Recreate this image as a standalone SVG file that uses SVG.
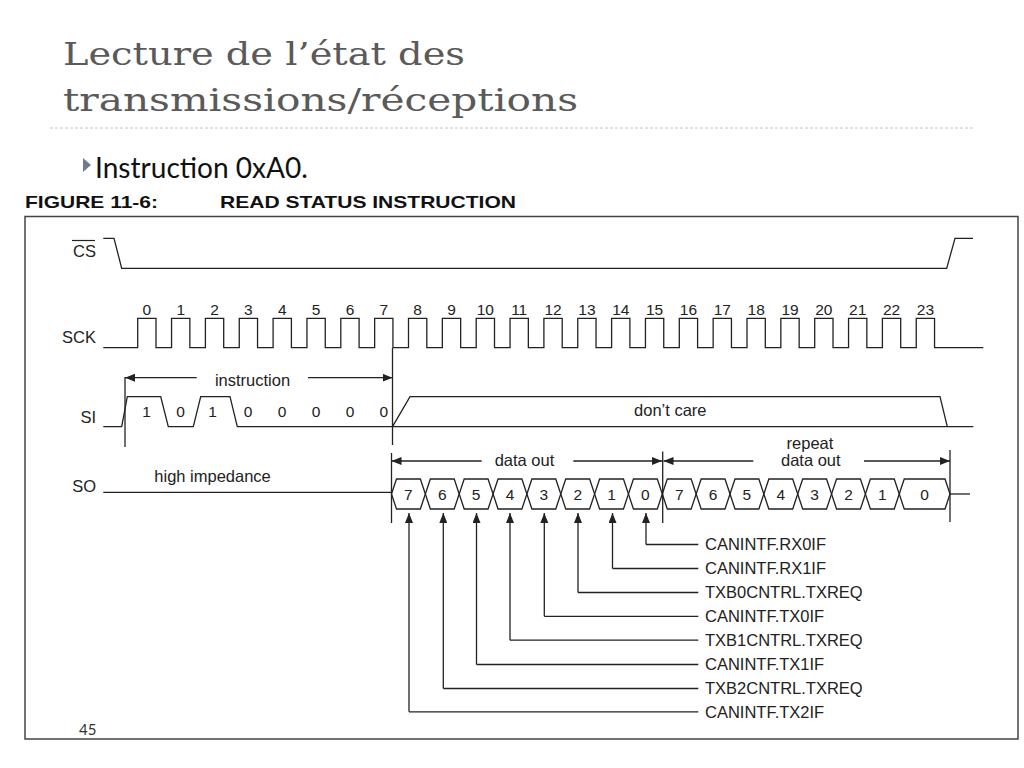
<svg xmlns="http://www.w3.org/2000/svg" width="1024" height="768" viewBox="0 0 1024 768">
<style>
.sig{fill:none;stroke:#222;stroke-width:1.3}
.lbl{font-family:"Liberation Sans",Arial,sans-serif;font-size:16.5px;fill:#222}
.num{font-family:"Liberation Sans",Arial,sans-serif;font-size:15.5px;fill:#222;text-anchor:middle}
.mid{text-anchor:middle}
.end{text-anchor:end}
.arr{fill:none;stroke:#222;stroke-width:1.3}
</style>
<defs>
<marker id="ah" viewBox="0 0 10 8" refX="10" refY="4" markerWidth="10" markerHeight="8" orient="auto-start-reverse" markerUnits="userSpaceOnUse"><path d="M0,0 L10,4 L0,8 Z" fill="#222"/></marker>
</defs>
<rect width="1024" height="768" fill="#fff"/>
<g id="title">
<text x="63" y="65" font-family="'DejaVu Serif','Liberation Serif',serif" font-size="31.5" fill="#5a5a5a" textLength="402" lengthAdjust="spacingAndGlyphs">Lecture de l’état des</text>
<text x="63" y="111" font-family="'DejaVu Serif','Liberation Serif',serif" font-size="31.5" fill="#5a5a5a" textLength="515" lengthAdjust="spacingAndGlyphs">transmissions/réceptions</text>
<line x1="50" y1="128" x2="973" y2="128" stroke="#c4c4c4" stroke-width="1" stroke-dasharray="3 2"/>
</g>
<g id="bullet">
<polygon points="83,158 91,165 83,172" fill="#6f7c96"/>
<text x="95" y="178" font-family="Lato,'Open Sans',sans-serif" font-size="28" fill="#111" textLength="213" lengthAdjust="spacingAndGlyphs">Instruction 0xA0.</text>
</g>
<g id="heading" font-family="'Liberation Sans',Arial,sans-serif" font-weight="bold" font-size="17" fill="#111">
<text x="25" y="208" textLength="133" lengthAdjust="spacingAndGlyphs">FIGURE 11-6:</text>
<text x="220" y="208" textLength="296" lengthAdjust="spacingAndGlyphs">READ STATUS INSTRUCTION</text>
</g>
<rect id="frame" x="25" y="216.5" width="993" height="522.5" fill="none" stroke="#444" stroke-width="1.5"/>
<g id="cs">
<text class="lbl end" x="96" y="257">CS</text>
<line x1="72" y1="240.5" x2="95" y2="240.5" stroke="#222" stroke-width="1.2"/>
<path class="sig" d="M103.3,238.3 H114 L121.7,268.3 H946.7 L955,238.3 H973"/>
</g>
<g id="sck">
<text class="lbl end" x="96" y="343">SCK</text>
<path class="sig" d="M103.3,347.7 H137.7 V318.3 H156 V347.7 H171.55 V318.3 H189.85 V347.7 H205.4 V318.3 H223.7 V347.7 H239.25 V318.3 H257.55 V347.7 H273.1 V318.3 H291.4 V347.7 H306.95 V318.3 H325.25 V347.7 H340.8 V318.3 H359.1 V347.7 H374.65 V318.3 H392.95 V347.7 H408.5 V318.3 H426.8 V347.7 H442.35 V318.3 H460.65 V347.7 H476.2 V318.3 H494.5 V347.7 H510.05 V318.3 H528.35 V347.7 H543.9 V318.3 H562.2 V347.7 H577.75 V318.3 H596.05 V347.7 H611.6 V318.3 H629.9 V347.7 H645.45 V318.3 H663.75 V347.7 H679.3 V318.3 H697.6 V347.7 H713.15 V318.3 H731.45 V347.7 H747 V318.3 H765.3 V347.7 H780.85 V318.3 H799.15 V347.7 H814.7 V318.3 H833 V347.7 H848.55 V318.3 H866.85 V347.7 H882.4 V318.3 H900.7 V347.7 H916.25 V318.3 H934.55 V347.7 H983.3"/>
<g class="num">
<text x="146.85" y="315">0</text><text x="180.7" y="315">1</text><text x="214.55" y="315">2</text><text x="248.4" y="315">3</text><text x="282.25" y="315">4</text><text x="316.1" y="315">5</text><text x="349.95" y="315">6</text><text x="383.8" y="315">7</text><text x="417.65" y="315">8</text><text x="451.5" y="315">9</text><text x="485.35" y="315">10</text><text x="519.2" y="315">11</text><text x="553.05" y="315">12</text><text x="586.9" y="315">13</text><text x="620.75" y="315">14</text><text x="654.6" y="315">15</text><text x="688.45" y="315">16</text><text x="722.3" y="315">17</text><text x="756.15" y="315">18</text><text x="790" y="315">19</text><text x="823.85" y="315">20</text><text x="857.7" y="315">21</text><text x="891.55" y="315">22</text><text x="925.4" y="315">23</text>
</g>
</g>
<g id="si">
<text class="lbl end" x="96" y="423">SI</text>
<path class="sig" d="M103.3,426.7 H121.7 L127.3,396.7 H160.7 L168.3,426.7 H193.3 L200.7,396.7 H230 L237.3,426.7 H973.3"/>
<path class="sig" d="M392.5,426.7 L410,396.7 H940 L947.3,426.7"/>
<g class="num">
<text x="146.5" y="417">1</text><text x="180.5" y="417">0</text><text x="212.5" y="417">1</text><text x="248" y="417">0</text><text x="282" y="417">0</text><text x="316" y="417">0</text><text x="350" y="417">0</text><text x="383.8" y="417">0</text>
</g>
<text class="lbl mid" x="252.5" y="386">instruction</text>
<text class="lbl mid" x="670.3" y="416">don’t care</text>
</g>
<g id="so">
<text class="lbl end" x="96" y="492">SO</text>
<text class="lbl" x="154.3" y="482">high impedance</text>
<path class="sig" d="M103.3,492.3 H391.5"/>
<g class="sig">
<path d="M391.5,494 L396.5,479 H420.35 L425.35,494 L420.35,509 H396.5 Z"/>
<path d="M425.35,494 L430.35,479 H454.2 L459.2,494 L454.2,509 H430.35 Z"/>
<path d="M459.2,494 L464.2,479 H488.05 L493.05,494 L488.05,509 H464.2 Z"/>
<path d="M493.05,494 L498.05,479 H521.9 L526.9,494 L521.9,509 H498.05 Z"/>
<path d="M526.9,494 L531.9,479 H555.75 L560.75,494 L555.75,509 H531.9 Z"/>
<path d="M560.75,494 L565.75,479 H589.6 L594.6,494 L589.6,509 H565.75 Z"/>
<path d="M594.6,494 L599.6,479 H623.45 L628.45,494 L623.45,509 H599.6 Z"/>
<path d="M628.45,494 L633.45,479 H657.3 L662.3,494 L657.3,509 H633.45 Z"/>
<path d="M662.3,494 L667.3,479 H691.15 L696.15,494 L691.15,509 H667.3 Z"/>
<path d="M696.15,494 L701.15,479 H725 L730,494 L725,509 H701.15 Z"/>
<path d="M730,494 L735,479 H758.85 L763.85,494 L758.85,509 H735 Z"/>
<path d="M763.85,494 L768.85,479 H792.7 L797.7,494 L792.7,509 H768.85 Z"/>
<path d="M797.7,494 L802.7,479 H826.55 L831.55,494 L826.55,509 H802.7 Z"/>
<path d="M831.55,494 L836.55,479 H860.4 L865.4,494 L860.4,509 H836.55 Z"/>
<path d="M865.4,494 L870.4,479 H894.25 L899.25,494 L894.25,509 H870.4 Z"/>
<path d="M899.25,494 L904.25,479 H945 L950,494 L945,509 H904.25 Z"/>
<path d="M950,494 H970"/>
</g>
<g class="num">
<text x="408.4" y="499.5">7</text><text x="442.3" y="499.5">6</text><text x="476.1" y="499.5">5</text><text x="510" y="499.5">4</text><text x="543.8" y="499.5">3</text><text x="577.7" y="499.5">2</text><text x="611.5" y="499.5">1</text><text x="645.4" y="499.5">0</text>
<text x="679.2" y="499.5">7</text><text x="713.1" y="499.5">6</text><text x="746.9" y="499.5">5</text><text x="780.8" y="499.5">4</text><text x="814.6" y="499.5">3</text><text x="848.5" y="499.5">2</text><text x="882.3" y="499.5">1</text><text x="924.6" y="499.5">0</text>
</g>
<text class="lbl mid" x="524.5" y="466">data out</text>
<text class="lbl mid" x="810" y="449" font-size="16">repeat</text>
<text class="lbl mid" x="810.8" y="466" font-size="16">data out</text>
</g>
<g id="bits" class="lbl">
<text x="705" y="550">CANINTF.RX0IF</text>
<text x="705" y="574">CANINTF.RX1IF</text>
<text x="705" y="598">TXB0CNTRL.TXREQ</text>
<text x="705" y="622">CANINTF.TX0IF</text>
<text x="705" y="646">TXB1CNTRL.TXREQ</text>
<text x="705" y="670">CANINTF.TX1IF</text>
<text x="705" y="694">TXB2CNTRL.TXREQ</text>
<text x="705" y="717.5">CANINTF.TX2IF</text>
</g>
<g id="connectors" class="arr">
<path d="M125,377 V447"/>
<path d="M392.5,348 V445"/>
<path d="M391.5,453 V523"/>
<path d="M662.7,451.5 V523"/>
<path d="M950,450 V522"/>
<path d="M196.7,377.7 H125" marker-end="url(#ah)"/>
<path d="M308,377.7 H392.5" marker-end="url(#ah)"/>
<path d="M481.7,461 H391.5" marker-end="url(#ah)"/>
<path d="M573.3,461 H662" marker-end="url(#ah)"/>
<path d="M753.3,461 H663.5" marker-end="url(#ah)"/>
<path d="M864,461 H950" marker-end="url(#ah)"/>
<path d="M646,544.5 V513" marker-end="url(#ah)"/><path d="M646,544.5 H698.3"/>
<path d="M612.5,568.5 V513" marker-end="url(#ah)"/><path d="M612.5,568.5 H698.3"/>
<path d="M578,592.5 V513" marker-end="url(#ah)"/><path d="M578,592.5 H698.3"/>
<path d="M544.3,616.3 V513" marker-end="url(#ah)"/><path d="M544.3,616.3 H698.3"/>
<path d="M510,640.2 V513" marker-end="url(#ah)"/><path d="M510,640.2 H698.3"/>
<path d="M476.5,664.5 V513" marker-end="url(#ah)"/><path d="M476.5,664.5 H698.3"/>
<path d="M443.3,688.5 V513" marker-end="url(#ah)"/><path d="M443.3,688.5 H698.3"/>
<path d="M409,711.8 V513" marker-end="url(#ah)"/><path d="M409,711.8 H698.3"/>
</g>
<text id="page" x="79" y="735" font-family="Lato,'Open Sans',sans-serif" font-size="15" fill="#333">45</text>
</svg>
